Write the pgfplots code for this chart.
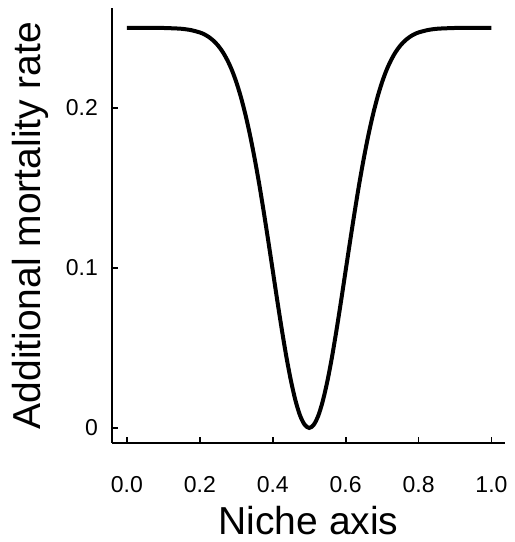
\documentclass[border=0pt]{standalone}
\usepackage{pgfplots}
\pgfplotsset{compat=1.18}
\usepackage{fontspec}
\setmainfont{Liberation Sans}
\begin{document}
\begin{tikzpicture}
\begin{axis}[
    name=ax,
    scale only axis,
    width=196.5pt, height=217.5pt,
    xmin=-0.041, xmax=1.037,
    ymin=-0.0094, ymax=0.2625,
    axis lines=left,
    axis line style={line width=1pt, -},
    tick align=inside,
    major tick length=3pt,
    tick style={line width=0.9pt, black},
    xtick={0,0.2,0.4,0.6,0.8,1.0},
    ytick={0,0.1,0.2},
    xticklabel style={/pgf/number format/.cd, fixed, fixed zerofill, precision=1, /tikz/.cd, yshift=-13pt},
    yticklabel style={/pgf/number format/fixed, xshift=-3.5pt},
    /pgf/number format/assume math mode=true,
    tick label style={font=\fontsize{11.5}{13}\selectfont},
    label style={font=\fontsize{19.5}{23}\selectfont},
    xlabel={Niche axis},
    ylabel={Additional mortality rate},
    xlabel style={at={(axis description cs:0.5,-0.2115)}, anchor=base},
    ylabel style={at={(axis description cs:-0.2087,0.5)}, anchor=center},
    clip=false,
]
\addplot[black, line width=2pt, smooth] coordinates {
(0.000,0.2500) (0.050,0.2500) (0.100,0.2500) (0.125,0.2498) (0.150,0.2495)
(0.175,0.2487) (0.200,0.2472) (0.2125,0.2460) (0.225,0.2443) (0.2375,0.2420)
(0.250,0.2390) (0.2625,0.2351) (0.275,0.2301) (0.2875,0.2239) (0.300,0.2162)
(0.3125,0.2069) (0.325,0.1959) (0.3375,0.1832) (0.350,0.1688) (0.3625,0.1529)
(0.375,0.1355) (0.3875,0.1172) (0.400,0.0984) (0.4125,0.0795) (0.425,0.0613)
(0.4375,0.0443) (0.450,0.0294) (0.4625,0.0170) (0.475,0.0077) (0.4875,0.0020)
(0.500,0.0000)
(0.5125,0.0020) (0.525,0.0077) (0.5375,0.0170) (0.550,0.0294) (0.5625,0.0443)
(0.575,0.0613) (0.5875,0.0795) (0.600,0.0984) (0.6125,0.1172) (0.625,0.1355)
(0.6375,0.1529) (0.650,0.1688) (0.6625,0.1832) (0.675,0.1959) (0.6875,0.2069)
(0.700,0.2162) (0.7125,0.2239) (0.725,0.2301) (0.7375,0.2351) (0.750,0.2390)
(0.7625,0.2420) (0.775,0.2443) (0.7875,0.2460) (0.800,0.2472) (0.825,0.2487)
(0.850,0.2495) (0.875,0.2498) (0.900,0.2500) (0.950,0.2500) (1.000,0.2500)
};
\end{axis}
\path ([xshift=-56pt,yshift=-49.5pt]ax.south west) rectangle ([xshift=3pt,yshift=4pt]ax.north east);
\end{tikzpicture}
\end{document}
